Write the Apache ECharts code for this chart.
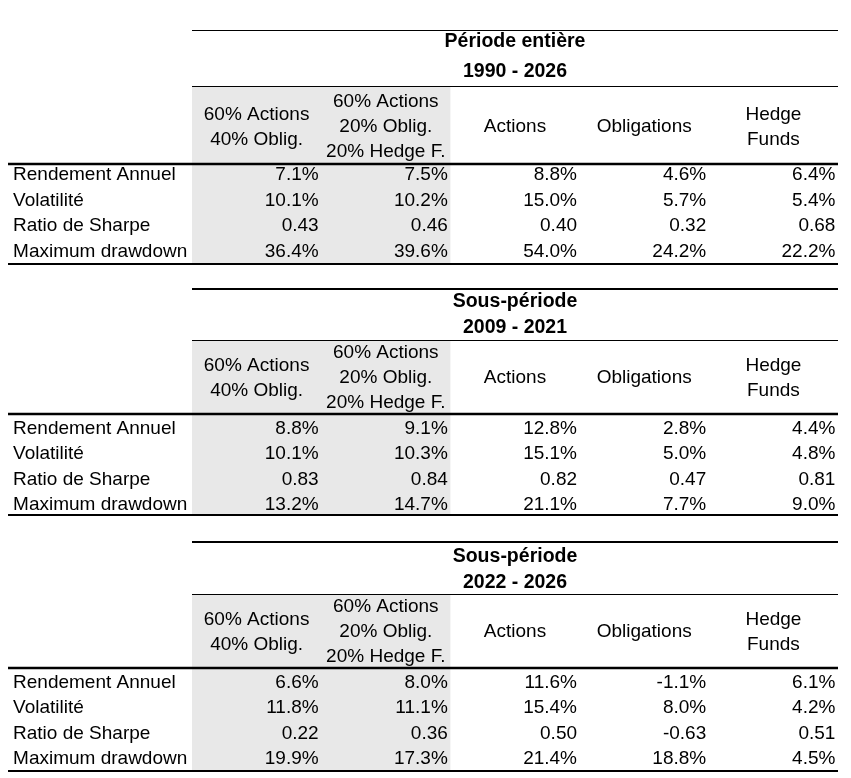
<!DOCTYPE html>
<html>
<head>
<meta charset="utf-8">
<script src="https://cdn.jsdelivr.net/npm/echarts@6/dist/echarts.min.js"></script>
<style>
html,body{margin:0;padding:0;background:#fff}
#main{width:851px;height:778px}
</style>
</head>
<body>
<div id="main"></div>
<script>
// libellés
var metrics = ['Rendement Annuel', 'Volatilité', 'Ratio de Sharpe', 'Maximum drawdown'];
var columns = ['60% Actions\n40% Oblig.', '60% Actions\n20% Oblig.\n20% Hedge F.', 'Actions', 'Obligations', 'Hedge\nFunds'];
var periodTitles = ['Période entière', 'Sous-période', 'Sous-période'];
var periodYears = ['1990 - 2026', '2009 - 2021', '2022 - 2026'];

// période entière 1990 - 2026
var ret1990 = [7.1, 7.5, 8.8, 4.6, 6.4];
var vol1990 = [10.1, 10.2, 15.0, 5.7, 5.4];
var sharpe1990 = [0.43, 0.46, 0.40, 0.32, 0.68];
var mdd1990 = [36.4, 39.6, 54.0, 24.2, 22.2];
// sous-période 2009 - 2021
var ret2009 = [8.8, 9.1, 12.8, 2.8, 4.4];
var vol2009 = [10.1, 10.3, 15.1, 5.0, 4.8];
var sharpe2009 = [0.83, 0.84, 0.82, 0.47, 0.81];
var mdd2009 = [13.2, 14.7, 21.1, 7.7, 9.0];
// sous-période 2022 - 2026
var ret2022 = [6.6, 8.0, 11.6, -1.1, 6.1];
var vol2022 = [11.8, 11.1, 15.4, 8.0, 4.2];
var sharpe2022 = [0.22, 0.36, 0.50, -0.63, 0.51];
var mdd2022 = [19.9, 17.3, 21.4, 18.8, 4.5];

var periods = [
  [ret1990, vol1990, sharpe1990, mdd1990],
  [ret2009, vol2009, sharpe2009, mdd2009],
  [ret2022, vol2022, sharpe2022, mdd2022]
];
var isRatio = [false, false, true, false]; // Sharpe sans %

// mise en page des blocs (y en px)
var blocks = [
  {top: 30.5, t1: 42, t2: 71.5, mid: 86.5, head: 127, thick: 164, rows: [175, 200.5, 226, 251.5], bottom: 264, topW: 1.2},
  {top: 289, t1: 301.5, t2: 328, mid: 340.5, head: 378, thick: 414, rows: [429, 454, 479.5, 505], bottom: 515, topW: 2},
  {top: 542, t1: 556.5, t2: 583, mid: 594.5, head: 632, thick: 668, rows: [683, 708, 734, 759], bottom: 771, topW: 2}
];

var FONT = '"Liberation Sans", Arial, sans-serif';
var SIZE = 19, TITLE_SIZE = 19.5;
var LABEL_X = -1.385, RULE_X = -1.424, PAD = 0.02;

function fmt(v, ratio) {
  return ratio ? v.toFixed(2) : v.toFixed(1) + '%';
}

var myChart = echarts.init(document.getElementById('main'));
var grids = [], xAxes = [], yAxes = [], series = [];

blocks.forEach(function (b, i) {
  grids.push({left: 192, width: 646, top: b.top, height: b.bottom - b.top});
  xAxes.push({type: 'value', gridIndex: i, min: 0, max: 5, show: false});
  yAxes.push({type: 'value', gridIndex: i, min: b.top, max: b.bottom, inverse: true, show: false});

  // fond gris des portefeuilles
  series.push({
    type: 'custom', xAxisIndex: i, yAxisIndex: i, silent: true, clip: false, z: 1,
    data: [[0, b.mid, 2, b.bottom]],
    renderItem: function (params, api) {
      var p1 = api.coord([api.value(0), api.value(1)]);
      var p2 = api.coord([api.value(2), api.value(3)]);
      return {type: 'rect', shape: {x: p1[0], y: p1[1], width: p2[0] - p1[0], height: p2[1] - p1[1]}, style: {fill: '#e8e8e8'}};
    }
  });

  // filets
  series.push({
    type: 'custom', xAxisIndex: i, yAxisIndex: i, silent: true, clip: false, z: 3,
    data: [[0, 5, b.top, b.topW], [0, 5, b.mid, 1], [RULE_X, 5, b.thick, 2.5], [RULE_X, 5, b.bottom, 2]],
    renderItem: function (params, api) {
      var p1 = api.coord([api.value(0), api.value(2)]);
      var p2 = api.coord([api.value(1), api.value(2)]);
      return {type: 'line', shape: {x1: p1[0], y1: p1[1], x2: p2[0], y2: p2[1]}, style: {stroke: '#000', lineWidth: api.value(3)}};
    }
  });

  // textes : titres, entêtes, libellés, valeurs
  var cells = [], labels = [];
  cells.push([2.5, b.t1]); labels.push({text: periodTitles[i], align: 'center', bold: true});
  cells.push([2.5, b.t2]); labels.push({text: periodYears[i], align: 'center', bold: true});
  columns.forEach(function (c, j) {
    cells.push([j + 0.5, b.head]); labels.push({text: c, align: 'center'});
  });
  metrics.forEach(function (m, r) {
    cells.push([LABEL_X, b.rows[r]]); labels.push({text: m, align: 'left'});
    periods[i][r].forEach(function (v, j) {
      cells.push([j + 1 - PAD, b.rows[r]]); labels.push({text: fmt(v, isRatio[r]), align: 'right'});
    });
  });

  series.push({
    type: 'custom', xAxisIndex: i, yAxisIndex: i, silent: true, clip: false, z: 2,
    data: cells,
    renderItem: function (params, api) {
      var p = api.coord([api.value(0), api.value(1)]);
      var l = labels[params.dataIndex];
      var font = (l.bold ? 'bold ' : '') + (l.bold ? TITLE_SIZE : SIZE) + 'px ' + FONT;
      return {
        type: 'text', x: p[0], y: p[1],
        style: {
          text: l.text, fill: '#000', font: font, lineHeight: 25,
          align: l.align, verticalAlign: 'middle',
          textAlign: l.align, textVerticalAlign: 'middle'
        }
      };
    }
  });
});

myChart.setOption({
  animation: false,
  grid: grids,
  xAxis: xAxes,
  yAxis: yAxes,
  series: series
});
</script>
</body>
</html>
